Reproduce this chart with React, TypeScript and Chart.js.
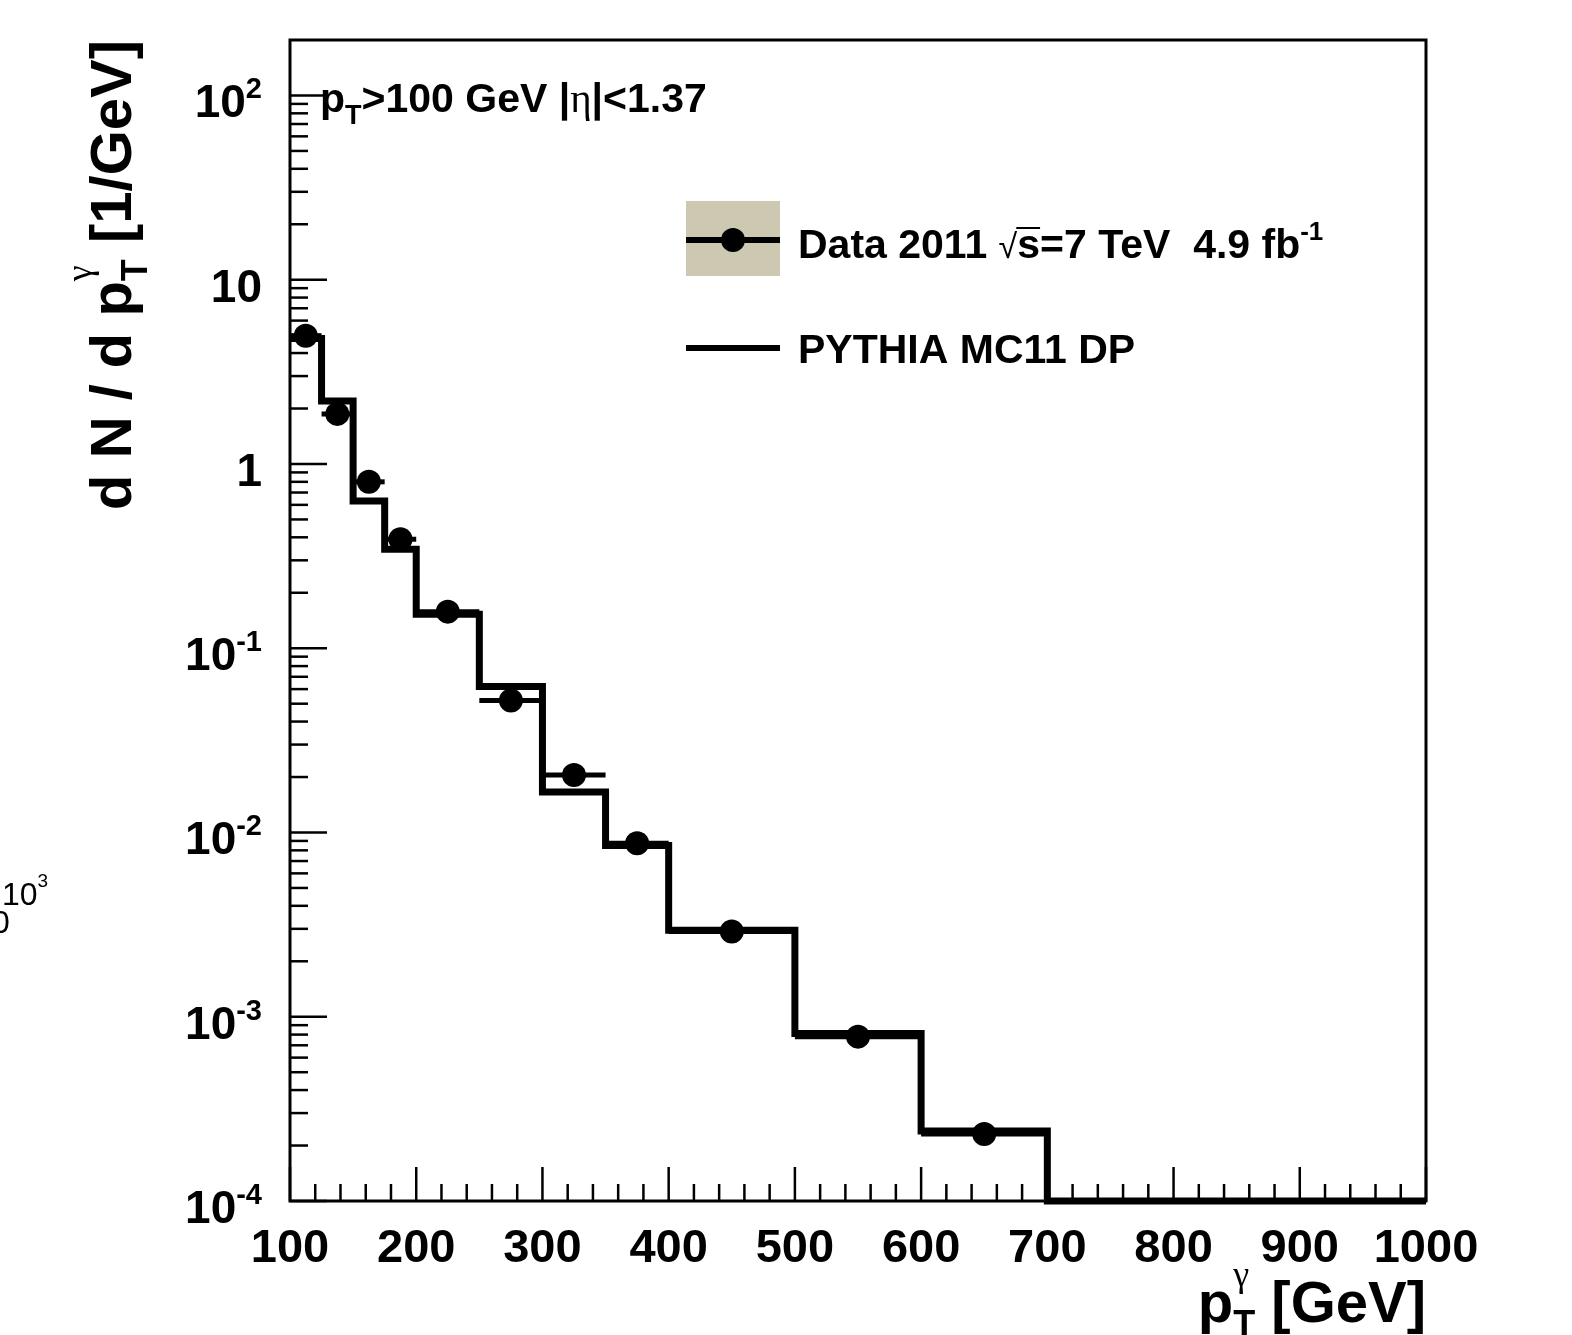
import React, { useEffect, useRef } from "react";
import { Chart, registerables } from "chart.js";

Chart.register(...registerables);

// ---- data ----
const binEdges = [100, 125, 150, 175, 200, 250, 300, 350, 400, 500, 600, 700, 1000];
const mcValues = [4.8, 2.2, 0.63, 0.344, 0.153, 0.062, 0.0166, 0.0085, 0.00295, 0.00081, 0.00024, 0];
const dataX = [112.5, 137.5, 162.5, 187.5, 225, 275, 325, 375, 450, 550, 650];
const dataY = [4.97, 1.87, 0.8, 0.39, 0.158, 0.052, 0.0205, 0.00875, 0.0029, 0.00078, 0.000231];
const xTicks = [100, 200, 300, 400, 500, 600, 700, 800, 900, 1000];
const yDecades = [-4, -3, -2, -1, 0, 1, 2];
const X_MIN = 100;
const X_MAX = 1000;
const Y_MIN = 1e-4;
const Y_MAX = 200;

const SANS = '"Liberation Sans", Arial, Helvetica, sans-serif';
const SERIF = '"Liberation Serif", "DejaVu Serif", serif';

type Part = { t: string; font: string; dy?: number; adv?: boolean; overline?: boolean };

function drawParts(ctx: CanvasRenderingContext2D, parts: Part[], x: number, y: number, align: "left" | "right" | "center") {
  ctx.textAlign = "left";
  ctx.textBaseline = "alphabetic";
  let total = 0;
  for (const p of parts) {
    ctx.font = p.font;
    if (p.adv !== false) total += ctx.measureText(p.t).width;
  }
  let cur = align === "right" ? x - total : align === "center" ? x - total / 2 : x;
  for (const p of parts) {
    ctx.font = p.font;
    const w = ctx.measureText(p.t).width;
    ctx.fillText(p.t, cur, y + (p.dy || 0));
    if (p.overline) {
      ctx.save();
      ctx.lineWidth = 2;
      ctx.beginPath();
      ctx.moveTo(cur - 1, y + (p.dy || 0) - 30);
      ctx.lineTo(cur + w, y + (p.dy || 0) - 30);
      ctx.stroke();
      ctx.restore();
    }
    if (p.adv !== false) cur += w;
  }
}

const rootStyle = {
  id: "rootStyle",
  beforeDraw(chart: any) {
    const ctx = chart.ctx as CanvasRenderingContext2D;
    ctx.save();
    ctx.fillStyle = "#fff";
    ctx.fillRect(0, 0, chart.width, chart.height);
    ctx.restore();
  },
  beforeDatasetsDraw(chart: any) {
    const ctx = chart.ctx as CanvasRenderingContext2D;
    const xs = chart.scales.x;
    const ys = chart.scales.y;
    ctx.save();
    ctx.strokeStyle = "#000";
    ctx.lineWidth = 5;
    ctx.lineCap = "butt";
    for (let i = 0; i < dataX.length; i++) {
      const py = ys.getPixelForValue(dataY[i]);
      ctx.beginPath();
      ctx.moveTo(xs.getPixelForValue(binEdges[i]), py);
      ctx.lineTo(xs.getPixelForValue(binEdges[i + 1]), py);
      ctx.stroke();
    }
    ctx.restore();
  },
  afterDatasetsDraw(chart: any) {
    const ctx = chart.ctx as CanvasRenderingContext2D;
    const xs = chart.scales.x;
    const ys = chart.scales.y;
    const a = chart.chartArea;
    ctx.save();
    ctx.strokeStyle = "#000";
    ctx.fillStyle = "#000";
    ctx.lineCap = "butt";

    // frame
    ctx.lineWidth = 3;
    ctx.strokeRect(a.left, a.top, a.right - a.left, a.bottom - a.top);

    // x ticks
    ctx.lineWidth = 2.5;
    for (let v = X_MIN; v <= X_MAX + 0.001; v += 20) {
      const px = xs.getPixelForValue(v);
      const major = Math.abs(v % 100) < 0.001;
      ctx.beginPath();
      ctx.moveTo(px, a.bottom);
      ctx.lineTo(px, a.bottom - (major ? 34 : 17));
      ctx.stroke();
    }
    // y ticks
    for (const e of yDecades) {
      for (let k = 1; k <= 9; k++) {
        const v = k * Math.pow(10, e);
        if (v > Y_MAX * 0.99 || v < Y_MIN * 0.99) continue;
        const py = ys.getPixelForValue(v);
        ctx.beginPath();
        ctx.moveTo(a.left, py);
        ctx.lineTo(a.left + (k === 1 ? 37 : 18), py);
        ctx.stroke();
      }
    }

    // x tick labels
    ctx.font = `bold 47px ${SANS}`;
    ctx.textAlign = "center";
    ctx.textBaseline = "alphabetic";
    for (const v of xTicks) {
      ctx.fillText(String(v), xs.getPixelForValue(v), a.bottom + 61);
    }

    // y tick labels
    for (const e of yDecades) {
      const py = ys.getPixelForValue(Math.pow(10, e));
      const base = `bold 46px ${SANS}`;
      const sup = `bold 29px ${SANS}`;
      let parts: Part[];
      if (e === 0) parts = [{ t: "1", font: base }];
      else if (e === 1) parts = [{ t: "10", font: base }];
      else parts = [{ t: "10", font: base }, { t: String(e), font: sup, dy: -19 }];
      drawParts(ctx, parts, 262, py + 22, "right");
    }

    // x title
    drawParts(
      ctx,
      [
        { t: "p", font: `bold 58px ${SANS}` },
        { t: "γ", font: `36px ${SERIF}`, dy: -36, adv: false },
        { t: "T", font: `bold 36px ${SANS}`, dy: 14 },
        { t: " [GeV]", font: `bold 58px ${SANS}` },
      ],
      a.right,
      1322,
      "right"
    );

    // y title
    ctx.save();
    ctx.translate(131, a.top);
    ctx.rotate(-Math.PI / 2);
    drawParts(
      ctx,
      [
        { t: "d N / d p", font: `bold 58px ${SANS}` },
        { t: "γ", font: `36px ${SERIF}`, dy: -40, adv: false },
        { t: "T", font: `bold 36px ${SANS}`, dy: 16 },
        { t: " [1/GeV]", font: `bold 58px ${SANS}` },
      ],
      0,
      0,
      "right"
    );
    ctx.restore();

    // selection text
    drawParts(
      ctx,
      [
        { t: "p", font: `bold 41px ${SANS}` },
        { t: "T", font: `bold 27px ${SANS}`, dy: 12 },
        { t: ">100 GeV |", font: `bold 41px ${SANS}` },
        { t: "η", font: `41px ${SERIF}` },
        { t: "|<1.37", font: `bold 41px ${SANS}` },
      ],
      320,
      112,
      "left"
    );

    // legend
    ctx.fillStyle = "#cdc8b1";
    ctx.fillRect(686, 201, 94, 75);
    ctx.fillStyle = "#000";
    ctx.lineWidth = 6;
    ctx.beginPath();
    ctx.moveTo(686, 240);
    ctx.lineTo(780, 240);
    ctx.stroke();
    ctx.beginPath();
    ctx.arc(733, 240, 12, 0, Math.PI * 2);
    ctx.fill();
    drawParts(
      ctx,
      [
        { t: "Data 2011 ", font: `bold 41px ${SANS}` },
        { t: "√", font: `34px ${SANS}` },
        { t: "s", font: `bold 41px ${SANS}`, overline: true },
        { t: "=7 TeV  4.9 fb", font: `bold 41px ${SANS}` },
        { t: "-1", font: `bold 26px ${SANS}`, dy: -18 },
      ],
      798,
      258,
      "left"
    );
    ctx.lineWidth = 6;
    ctx.beginPath();
    ctx.moveTo(686, 348);
    ctx.lineTo(780, 348);
    ctx.stroke();
    drawParts(ctx, [{ t: "PYTHIA MC11 DP", font: `bold 41px ${SANS}` }], 798, 363, "left");

    // stray label fragment at left edge
    drawParts(
      ctx,
      [
        { t: "10", font: `32px ${SANS}` },
        { t: "3", font: `19px ${SANS}`, dy: -18 },
      ],
      2,
      905,
      "left"
    );
    drawParts(ctx, [{ t: "0", font: `32px ${SANS}` }], -8, 933, "left");

    ctx.restore();
  },
};

export default function App() {
  const ref = useRef<HTMLCanvasElement | null>(null);
  useEffect(() => {
    if (!ref.current) return;
    const histPoints = binEdges.map((x, i) => ({
      x,
      y: Math.max(mcValues[Math.min(i, mcValues.length - 1)], Y_MIN),
    }));
    const dataPoints = dataX.map((x, i) => ({ x, y: dataY[i] }));
    const chart = new Chart(ref.current, {
      type: "scatter",
      data: {
        datasets: [
          {
            type: "line",
            label: "PYTHIA MC11 DP",
            data: histPoints,
            stepped: "before",
            borderColor: "#000",
            borderWidth: 7,
            borderJoinStyle: "miter",
            borderCapStyle: "butt",
            pointRadius: 0,
            fill: false,
            clip: false,
          } as any,
          {
            type: "scatter",
            label: "Data 2011",
            data: dataPoints,
            pointRadius: 12,
            pointBackgroundColor: "#000",
            pointBorderColor: "#000",
            pointBorderWidth: 0,
            clip: false,
          } as any,
        ],
      },
      options: {
        responsive: false,
        animation: false,
        devicePixelRatio: 1,
        layout: { padding: { left: 290, right: 146, top: 40, bottom: 134 } },
        plugins: { legend: { display: false }, tooltip: { enabled: false } },
        scales: {
          x: { type: "linear", min: X_MIN, max: X_MAX, display: false },
          y: { type: "logarithmic", min: Y_MIN, max: Y_MAX, display: false },
        },
      } as any,
      plugins: [rootStyle],
    });
    return () => chart.destroy();
  }, []);
  return (
    <div style={{ position: "fixed", left: 0, top: 0, width: 1572, height: 1335, background: "#fff" }}>
      <canvas ref={ref} width={1572} height={1335} style={{ display: "block" }} />
    </div>
  );
}
